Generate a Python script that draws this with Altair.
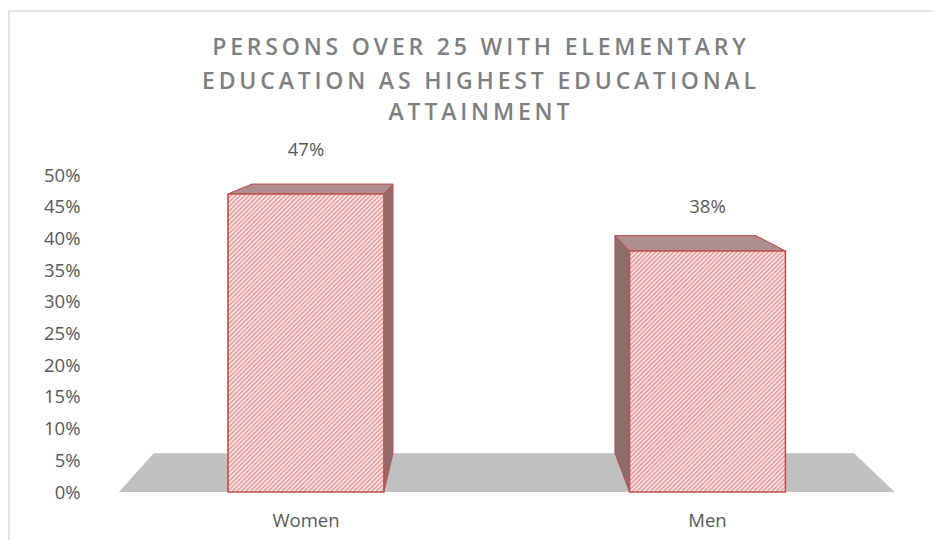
import altair as alt
import pandas as pd

# ---------------- data ----------------
categories = ["Women", "Men"]
values = [47, 38]                      # percent
value_labels = ["47%", "38%"]
y_ticks = [0, 5, 10, 15, 20, 25, 30, 35, 40, 45, 50]
title_lines = [
    "PERSONS OVER 25 WITH ELEMENTARY",
    "EDUCATION AS HIGHEST EDUCATIONAL",
    "ATTAINMENT",
]

# ---------------- layout / style constants ----------------
W, H = 830, 317
X_DOMAIN = [-0.5504, 1.5168]   # category index units
Y_DOMAIN = [0, 50]
PX_PER_X = W / (X_DOMAIN[1] - X_DOMAIN[0])
PX_PER_Y = H / (Y_DOMAIN[1] - Y_DOMAIN[0])
HALF_W = 0.194                 # half bar width (category units)
VP_X, VP_Y = 0.428, 63.2       # vanishing point for the 3-D effect
DEPTH_T = 0.097                # depth fraction toward the vanishing point
FLOOR_PAD = 0.466              # floor overhang beyond the outer bar centres
HATCH_STEP = 4.5               # px between hatch lines

FRONT_FILL = "#fbe4e4"
HATCH_COL = "#e79f9f"
EDGE = "#c0504d"
TOP_FILL = "#ae8e8e"
SIDE_FILL = "#8d6c6c"
FLOOR_FILL = "#c0c0c0"
TEXT = "#595959"
TITLE_COL = "#7f7f7f"
FONT = "Open Sans"


def back_x(x):
    return x + DEPTH_T * (VP_X - x)


def back_y(y):
    return y + DEPTH_T * (VP_Y - y)


# front faces
front = pd.DataFrame({
    "cat": categories,
    "xc": [float(i) for i in range(len(categories))],
    "v": values,
    "lab": value_labels,
})
front["xl"] = front["xc"] - HALF_W
front["xr"] = front["xc"] + HALF_W
front["y0"] = 0

# diagonal hatch segments clipped to each front face
hatch_rows = []
for i, v in enumerate(values):
    w_px = 2 * HALF_W * PX_PER_X
    h_px = v * PX_PER_Y
    c = -h_px
    while c < w_px:
        xa, xb = max(0.0, c), min(w_px, c + h_px)
        if xb > xa:
            hatch_rows.append({
                "x": i - HALF_W + xa / PX_PER_X, "x2": i - HALF_W + xb / PX_PER_X,
                "y": (xa - c) / PX_PER_Y, "y2": (xb - c) / PX_PER_Y,
            })
        c += HATCH_STEP
hatch = pd.DataFrame(hatch_rows)

# top faces (horizontal areas)
top_rows = []
for i, v in enumerate(values):
    xl, xr = i - HALF_W, i + HALF_W
    top_rows.append({"bar": i, "y": v, "x": xl, "x2": xr})
    top_rows.append({"bar": i, "y": back_y(v), "x": back_x(xl), "x2": back_x(xr)})
tops = pd.DataFrame(top_rows)

# side faces (vertical areas)
side_rows = []
for i, v in enumerate(values):
    for side, xf in (("L", i - HALF_W), ("R", i + HALF_W)):
        key = f"{i}{side}"
        side_rows.append({"face": key, "x": xf, "y": v, "y2": 0})
        side_rows.append({"face": key, "x": back_x(xf), "y": back_y(v), "y2": back_y(0)})
sides = pd.DataFrame(side_rows)

# floor
fl, fr = -FLOOR_PAD, (len(categories) - 1) + FLOOR_PAD
floor = pd.DataFrame({
    "x": [fl, back_x(fl), back_x(fr), fr],
    "y": [0, back_y(0), back_y(0), 0],
    "y2": [0, 0, 0, 0],
})

xs = alt.Scale(domain=X_DOMAIN, nice=False, zero=False)
ys = alt.Scale(domain=Y_DOMAIN, nice=False, zero=False)

y_axis = alt.Axis(
    values=y_ticks, labelExpr="datum.value + '%'", domain=False, ticks=False,
    grid=False, title=None, labelFontSize=18.5, labelColor=TEXT, labelFont=FONT,
    labelPadding=5, labelOverlap=False, labelBound=False, tickCount=11)


def X(field):
    return alt.X(field, scale=xs, axis=None)


def Y(field):
    return alt.Y(field, scale=ys, axis=y_axis)


frame = alt.Chart(pd.DataFrame({"a": [0]})).mark_rect(
    filled=False, stroke="#d9d9d9", strokeWidth=1.5
).encode(
    x=alt.value(-76), x2=alt.value(W + 120), y=alt.value(-164), y2=alt.value(H + 120)
)

floor_layer = alt.Chart(floor).mark_area(color=FLOOR_FILL, opacity=1).encode(
    x=X("x:Q"), y=Y("y:Q"), y2="y2:Q",
)

side_layer = alt.Chart(sides).mark_area(
    color=SIDE_FILL, stroke=EDGE, strokeWidth=1, opacity=1
).encode(x=X("x:Q"), y=Y("y:Q"), y2="y2:Q", detail="face:N")

top_layer = alt.Chart(tops).mark_area(
    orient="horizontal", color=TOP_FILL, stroke=EDGE, strokeWidth=1, opacity=1
).encode(y=Y("y:Q"), x=X("x:Q"), x2="x2:Q", detail="bar:N")

front_layer = alt.Chart(front).mark_rect(fill=FRONT_FILL).encode(
    x=X("xl:Q"), x2="xr:Q", y=Y("v:Q"), y2="y0:Q"
)

hatch_layer = alt.Chart(hatch).mark_rule(color=HATCH_COL, strokeWidth=1.6).encode(
    x=X("x:Q"), x2="x2:Q", y=Y("y:Q"), y2="y2:Q"
)

front_edge = alt.Chart(front).mark_rect(
    filled=False, stroke=EDGE, strokeWidth=1.5
).encode(x=X("xl:Q"), x2="xr:Q", y=Y("v:Q"), y2="y0:Q")

value_text = alt.Chart(front).mark_text(
    dy=-44, fontSize=18.5, color=TEXT, font=FONT
).encode(x=X("xc:Q"), y=Y("v:Q"), text="lab:N")

cat_text = alt.Chart(front).mark_text(
    fontSize=18.5, color=TEXT, font=FONT
).encode(x=X("xc:Q"), y=alt.value(H + 29), text="cat:N")


def spaced(s):
    return "\u2009".join(s)


title_layers = []
for k, line in enumerate(title_lines):
    title_layers.append(
        alt.Chart(pd.DataFrame({"t": [spaced(line)]})).mark_text(
            fontSize=23, fontWeight=600, color=TITLE_COL, font=FONT,
            baseline="middle", align="center"
        ).encode(text="t:N", x=alt.value(394), y=alt.value([-127, -93, -62][k]))
    )

chart = alt.layer(
    frame, floor_layer, side_layer, top_layer, front_layer, hatch_layer,
    front_edge, value_text, cat_text, *title_layers
).properties(
    width=W, height=H,
    padding={"left": 77, "top": 167, "right": 18, "bottom": 48},
    autosize=alt.AutoSizeParams(type="none"),
).configure_view(stroke=None)

chart.save("out.html", embed_options={"renderer": "svg", "actions": False})
